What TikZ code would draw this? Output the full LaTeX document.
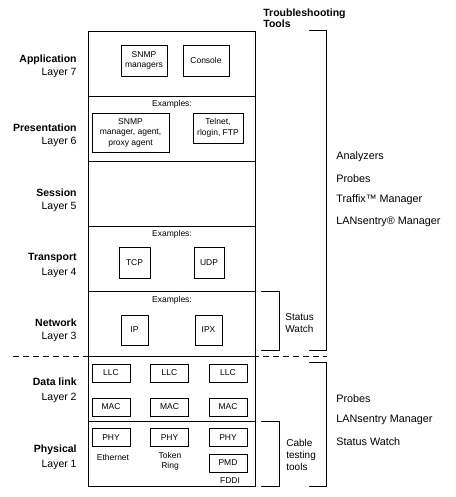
\documentclass[tikz,border=0pt]{standalone}
\usepackage{fontspec}
\setmainfont{Liberation Sans}
\begin{document}
\begin{tikzpicture}[x=1pt,y=-1pt,
  line width=0.8pt,
  layerbox/.style={draw, minimum width=167pt, minimum height=65pt, inner sep=0pt},
  ibox/.style={draw, inner sep=0pt, align=center, font=\fontsize{8.5}{10.5}\selectfont},
  small/.style={inner sep=0pt, align=center, font=\fontsize{8.5}{10}\selectfont},
  lname/.style={anchor=east, inner sep=0pt, font=\bfseries\fontsize{10.5}{12}\selectfont},
  lnum/.style={anchor=east, inner sep=0pt, font=\fontsize{10.5}{12}\selectfont},
  rtext/.style={anchor=west, inner sep=0pt, font=\fontsize{10.8}{12}\selectfont},
  btext/.style={anchor=west, inner sep=0pt, align=left, font=\fontsize{10}{12}\selectfont},
]
\useasboundingbox (0,0) rectangle (455,497);

% dashed divider
\draw[dashed, dash pattern=on 6pt off 4pt] (13,356) -- (327,356);

% layer boxes
\node[layerbox, fill=white] (L7) at (171.5,63.5) {};
\node[layerbox, fill=white] (L6) at (171.5,128.5) {};
\node[layerbox, fill=white] (L5) at (171.5,193.5) {};
\node[layerbox, fill=white] (L4) at (171.5,258.5) {};
\node[layerbox, fill=white] (L3) at (171.5,323.5) {};
\node[layerbox, fill=white] (L2) at (171.5,388.5) {};
\node[layerbox, fill=white] (L1) at (171.5,453.5) {};

% left labels
\node[lname] (n7) at (77,60) {Application};
\node[lnum]  (m7) at (77,73) {Layer 7};
\node[lname] (n6) at (77,128) {Presentation};
\node[lnum]  (m6) at (77,142) {Layer 6};
\node[lname] (n5) at (77,193) {Session};
\node[lnum]  (m5) at (77,207) {Layer 5};
\node[lname] (n4) at (77,258) {Transport};
\node[lnum]  (m4) at (77,273) {Layer 4};
\node[lname] (n3) at (77,323) {Network};
\node[lnum]  (m3) at (77,337) {Layer 3};
\node[lname] (n2) at (77,382) {Data link};
\node[lnum]  (m2) at (77,398) {Layer 2};
\node[lname] (n1) at (77,450) {Physical};
\node[lnum]  (m1) at (77,465) {Layer 1};

% layer 7
\node[ibox, minimum width=46pt, minimum height=31pt] (snmpm) at (144,60.5) {SNMP\\managers};
\node[ibox, minimum width=46pt, minimum height=31pt] (cons) at (206,60.5) {Console};
% layer 6
\node[small] (ex6) at (172,104) {Examples:};
\node[ibox, minimum width=77pt, minimum height=39pt] (snmpa) at (130.5,132.5) {SNMP\\manager, agent,\\proxy agent};
\node[ibox, minimum width=50pt, minimum height=30pt] (tel) at (218,128) {Telnet,\\rlogin, FTP};
% layer 4
\node[small] (ex4) at (172,234) {Examples:};
\node[ibox, minimum width=31pt, minimum height=31pt] (tcp) at (134.5,262.5) {TCP};
\node[ibox, minimum width=30pt, minimum height=31pt] (udp) at (209,262.5) {UDP};
% layer 3
\node[small] (ex3) at (172,300) {Examples:};
\node[ibox, minimum width=27pt, minimum height=30pt] (ip) at (134.5,330) {IP};
\node[ibox, minimum width=27pt, minimum height=30pt] (ipx) at (208.5,330) {IPX};
% layer 2
\node[ibox, minimum width=38pt, minimum height=18pt] (llc1) at (111,373) {LLC};
\node[ibox, minimum width=38pt, minimum height=18pt] (llc2) at (169.5,373) {LLC};
\node[ibox, minimum width=38pt, minimum height=18pt] (llc3) at (228,373) {LLC};
\node[ibox, minimum width=38pt, minimum height=18pt] (mac1) at (111,407) {MAC};
\node[ibox, minimum width=38pt, minimum height=18pt] (mac2) at (169.5,407) {MAC};
\node[ibox, minimum width=38pt, minimum height=18pt] (mac3) at (228,407) {MAC};
% layer 1
\node[ibox, minimum width=38pt, minimum height=18pt] (phy1) at (111,437.5) {PHY};
\node[ibox, minimum width=38pt, minimum height=18pt] (phy2) at (169.5,437.5) {PHY};
\node[ibox, minimum width=38pt, minimum height=18pt] (phy3) at (228,437.5) {PHY};
\node[ibox, minimum width=38pt, minimum height=18pt] (pmd) at (228,463) {PMD};
\node[small] (eth) at (113,457) {Ethernet};
\node[small] (tok) at (170,461.5) {Token\\Ring};
\node[small] (fddi) at (230,481) {FDDI};

% header
\node[anchor=north west, inner sep=0pt, align=left, font=\bfseries\fontsize{10.5}{11}\selectfont] (hdr) at (263,8) {Troubleshooting\\Tools};

% brackets
\draw (309,30.5) -- (326,30.5) -- (326,350) -- (309,350);
\draw (261,291) -- (279,291) -- (279,350) -- (261,350);
\draw (309,362) -- (326,362) -- (326,486) -- (309,486);
\draw (261,421) -- (279,421) -- (279,486) -- (261,486);

% bracket texts
\node[btext] (sw) at (285,323) {Status\\Watch};
\node[btext] (ct) at (286,455) {Cable\\testing\\tools};

% right texts
\node[rtext] (t1) at (336,157) {Analyzers};
\node[rtext] (t2) at (336,178.5) {Probes};
\node[rtext] (t3) at (336,200) {Traffix™ Manager};
\node[rtext] (t4) at (336,222) {LANsentry® Manager};
\node[rtext] (t5) at (336,399) {Probes};
\node[rtext] (t6) at (336,420) {LANsentry Manager};
\node[rtext] (t7) at (336,442) {Status Watch};
\end{tikzpicture}
\end{document}
